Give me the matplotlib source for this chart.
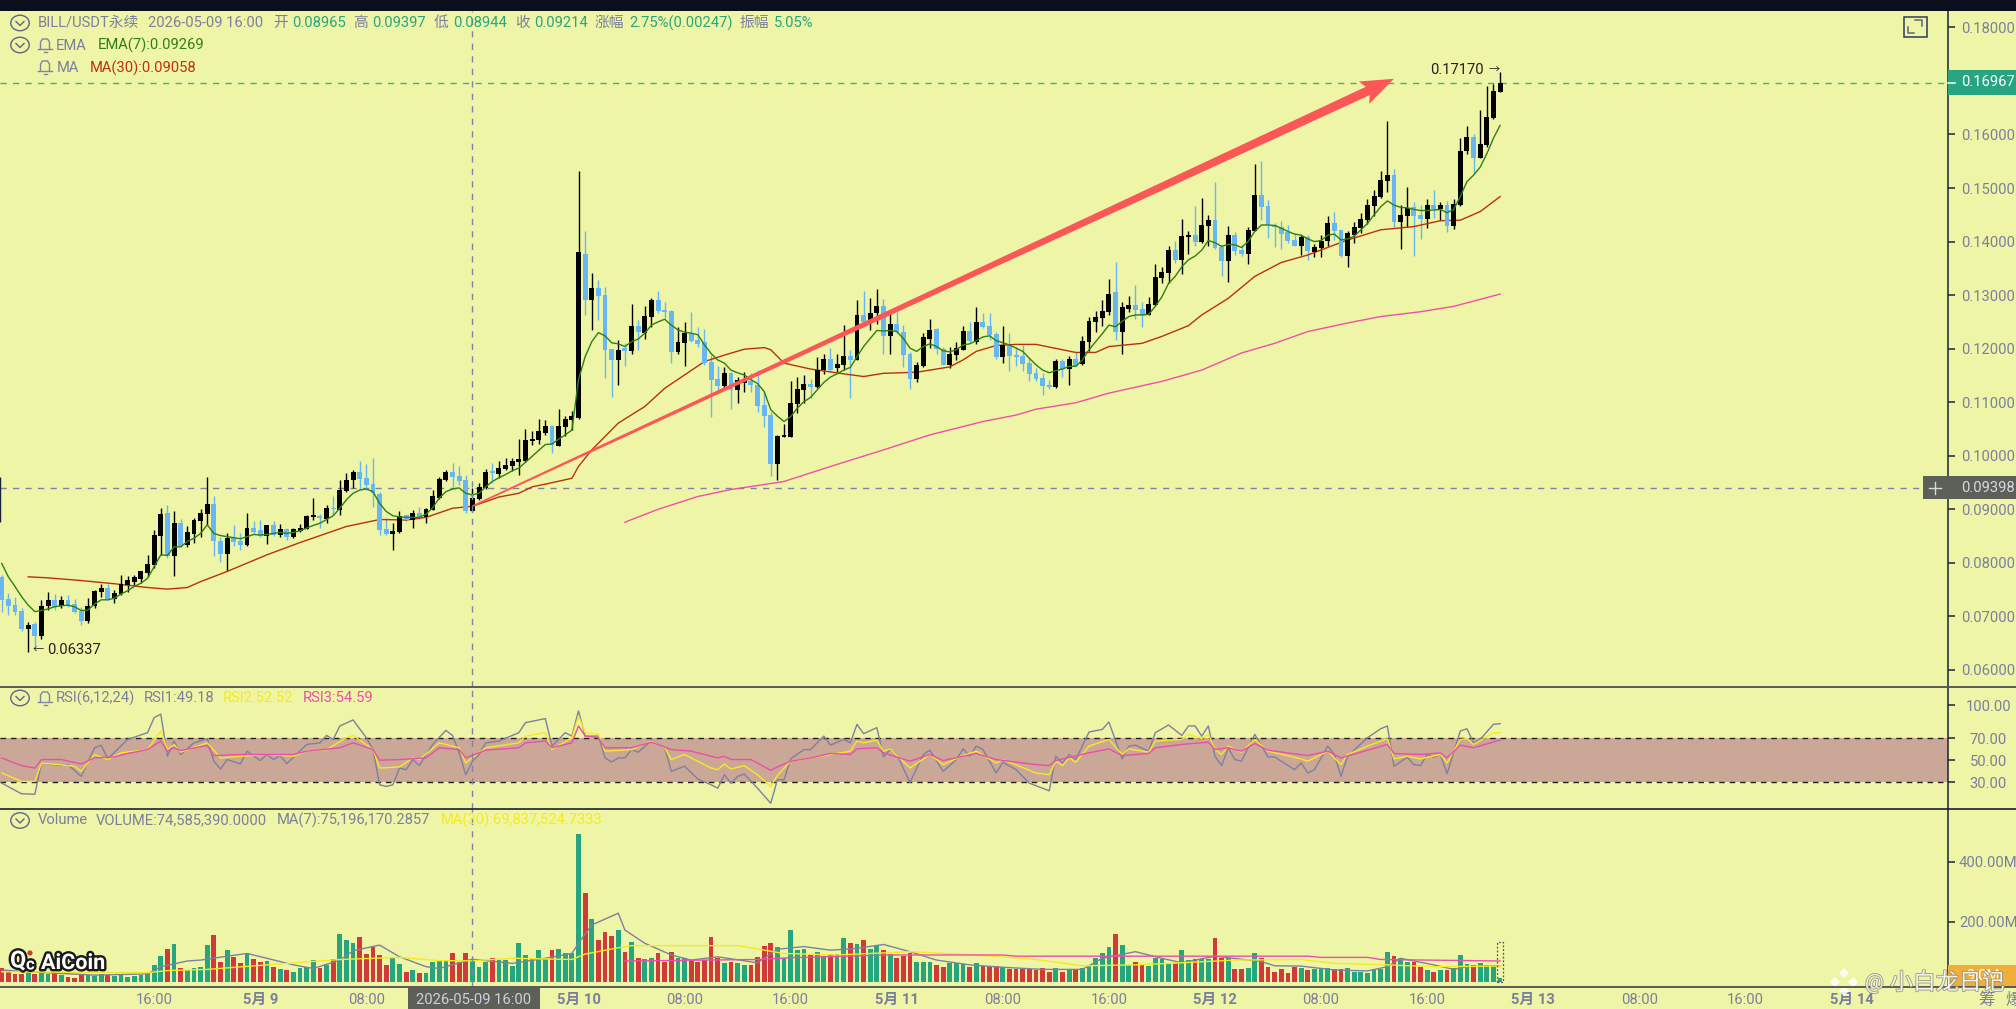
"""BILL/USDT 30m candle chart with EMA/MA, RSI and volume panes."""
import matplotlib

matplotlib.use("Agg")
import matplotlib.pyplot as plt
import matplotlib.patheffects as pe
from matplotlib.patches import Circle, Ellipse, Polygon, Rectangle
import numpy as np

plt.rcParams["font.family"] = ["Roboto", "Noto Sans CJK SC", "DejaVu Sans"]

W, H = 2016, 1009
BG = "#eff5a6"
INK = "#7b7f9e"
UP_C, DOWN_C = "#000000", "#67b7f7"
UP_V, DOWN_V = "#26a67f", "#d13a3a"

# prices below are in 1e-3 USDT, one entry per 30 minute candle
opens = [
    77.4, 73.2, 72.1, 71.0, 67.7, 68.5, 66.4, 72.0, 73.1, 72.0,
    73.1, 72.3, 71.0, 69.2, 72.0, 74.5, 75.4, 73.2, 74.2, 75.9,
    76.5, 77.0, 78.2, 79.6, 85.0, 89.4, 81.3, 87.5, 83.4, 85.4,
    87.8, 89.1, 91.0, 84.1, 81.6, 84.7, 84.1, 83.4, 86.6, 86.1,
    85.1, 87.1, 85.2, 86.3, 84.8, 86.0, 86.3, 88.5, 88.8, 88.1,
    90.3, 89.8, 93.5, 95.4, 96.9, 95.9, 94.7, 92.9, 86.3, 85.4,
    85.7, 88.9, 88.0, 89.4, 88.5, 89.9, 92.2, 95.5, 96.9, 96.2,
    95.5, 89.65, 91.9, 93.9, 97.2, 96.6, 97.5, 98.1, 98.8, 99.1,
    102.8, 103.0, 104.2, 105.6, 101.9, 105.3, 106.7, 107.1, 137.7, 129.0,
    131.4, 130.0, 119.9, 117.8, 120.1, 119.6, 124.2, 123.0, 126.0, 129.1,
    127.2, 127.0, 119.3, 121.0, 123.0, 121.6, 121.3, 117.5, 114.3, 113.0,
    115.5, 112.2, 113.5, 113.9, 113.3, 109.5, 107.6, 98.5, 103.5, 103.5,
    109.7, 112.3, 113.4, 112.8, 116.0, 118.0, 116.3, 117.0, 118.6, 117.8,
    126.3, 124.9, 126.6, 128.0, 122.4, 124.6, 123.2, 119.0, 114.4, 116.8,
    121.9, 123.7, 119.9, 117.0, 118.8, 119.8, 123.3, 121.3, 124.9, 124.2,
    122.8, 118.4, 120.5, 118.8, 118.7, 117.4, 115.5, 114.6, 113.2, 112.8,
    117.7, 116.2, 118.0, 117.1, 121.2, 125.0, 125.7, 126.8, 130.5, 123.1,
    127.4, 128.2, 127.4, 126.3, 128.2, 133.2, 134.1, 138.4, 136.6, 140.9,
    141.3, 139.9, 142.9, 144.0, 139.0, 136.4, 141.3, 138.4, 137.7, 142.0,
    148.7, 146.7, 143.1, 142.8, 141.7, 140.3, 139.2, 140.9, 138.1, 138.8,
    140.1, 143.4, 142.2, 137.3, 141.2, 142.5, 144.0, 146.7, 148.3, 151.4,
    152.4, 143.7, 144.8, 146.4, 145.0, 144.3, 146.8, 146.0, 146.8, 143.0,
    146.8, 156.9, 159.5, 155.7, 158.0, 163.0, 168.0,
]
highs = [
    77.8, 74.3, 73.7, 71.5, 69.0, 69.0, 73.1, 74.6, 74.2, 73.8,
    74.0, 73.2, 71.8, 73.5, 75.0, 76.1, 76.1, 74.9, 77.7, 77.6,
    77.7, 78.5, 81.5, 86.2, 90.2, 90.8, 89.7, 88.1, 86.8, 88.3,
    90.0, 96.0, 92.5, 84.9, 85.5, 87.1, 85.5, 89.4, 87.9, 88.0,
    87.1, 87.8, 87.3, 86.5, 86.5, 87.3, 88.9, 92.1, 89.1, 90.8,
    92.4, 95.4, 96.7, 97.4, 99.1, 98.5, 99.5, 93.3, 88.3, 87.5,
    89.6, 89.0, 89.9, 90.5, 90.3, 93.7, 96.0, 97.4, 98.6, 98.0,
    96.4, 93.97, 95.0, 97.5, 98.6, 99.0, 99.5, 99.5, 103.1, 105.0,
    104.6, 106.8, 106.6, 105.8, 108.7, 107.5, 108.4, 153.1, 142.0, 134.2,
    132.9, 131.6, 119.9, 121.7, 121.0, 128.3, 125.4, 128.0, 129.4, 130.8,
    128.8, 127.2, 124.1, 124.9, 126.8, 124.1, 123.6, 118.8, 116.8, 116.5,
    115.7, 114.8, 115.6, 115.4, 116.1, 112.0, 108.2, 103.9, 105.9, 114.0,
    114.7, 115.1, 114.3, 118.4, 119.0, 120.1, 119.0, 124.4, 119.8, 129.0,
    130.8, 129.5, 131.1, 129.3, 126.6, 126.9, 124.4, 119.4, 117.6, 122.9,
    125.5, 123.8, 120.3, 120.4, 121.3, 124.2, 124.9, 127.7, 126.6, 126.6,
    123.2, 124.2, 122.9, 120.4, 120.7, 118.2, 116.3, 115.4, 114.2, 118.0,
    118.0, 118.6, 119.3, 122.4, 125.9, 127.0, 129.0, 133.1, 136.2, 128.8,
    129.9, 131.8, 128.7, 129.7, 135.8, 135.2, 139.1, 140.1, 144.2, 141.9,
    146.7, 148.1, 145.0, 151.1, 139.4, 142.9, 141.7, 139.4, 142.7, 154.5,
    155.1, 147.8, 143.4, 143.9, 143.1, 141.6, 141.3, 141.3, 139.6, 141.3,
    144.8, 145.6, 142.2, 141.9, 143.6, 145.4, 147.9, 149.6, 153.1, 162.6,
    153.6, 146.8, 150.1, 147.3, 146.8, 148.0, 149.6, 147.3, 147.6, 148.0,
    159.3, 161.6, 160.1, 164.6, 169.0, 169.4, 171.7,
]
lows = [
    70.9, 70.3, 70.3, 67.2, 63.4, 64.5, 65.7, 71.2, 71.2, 71.5,
    71.8, 70.6, 68.4, 68.7, 71.5, 73.7, 73.1, 72.5, 74.0, 74.6,
    75.6, 76.3, 77.4, 79.0, 81.5, 80.9, 77.6, 82.9, 83.0, 83.7,
    84.9, 87.1, 81.2, 80.2, 78.4, 83.2, 82.4, 83.2, 85.3, 84.9,
    83.5, 85.0, 84.9, 84.2, 84.6, 85.8, 86.3, 88.0, 86.6, 87.4,
    88.9, 88.9, 93.3, 93.9, 93.6, 93.7, 90.5, 85.2, 85.2, 82.4,
    85.5, 87.9, 86.5, 88.1, 87.4, 89.9, 91.9, 95.2, 94.2, 94.5,
    89.4, 89.44, 91.8, 93.8, 94.9, 95.8, 97.4, 97.2, 96.4, 98.9,
    102.0, 102.2, 103.9, 100.5, 101.8, 103.6, 104.8, 106.8, 126.2, 123.5,
    125.4, 114.6, 110.9, 113.2, 116.8, 119.0, 119.8, 121.9, 124.1, 126.6,
    125.7, 117.3, 119.0, 116.8, 121.3, 120.4, 117.0, 107.2, 111.7, 112.6,
    108.7, 109.8, 112.0, 112.0, 108.1, 105.3, 96.3, 95.5, 103.5, 103.5,
    107.9, 109.8, 110.7, 112.6, 115.3, 115.7, 115.7, 116.1, 110.7, 117.8,
    124.6, 123.4, 124.7, 119.0, 119.0, 122.9, 116.5, 112.4, 113.7, 116.6,
    120.1, 119.0, 117.0, 116.3, 117.8, 119.8, 121.3, 120.9, 123.8, 121.6,
    118.0, 117.3, 115.9, 116.7, 115.9, 113.9, 113.9, 111.4, 112.4, 112.6,
    114.8, 113.2, 116.7, 117.0, 119.5, 123.2, 124.2, 126.3, 121.7, 119.0,
    126.8, 125.5, 124.1, 126.3, 128.0, 132.2, 132.2, 136.0, 134.0, 137.6,
    139.1, 139.8, 139.1, 138.6, 133.5, 132.4, 137.5, 137.3, 135.8, 141.9,
    144.0, 140.6, 139.0, 138.6, 139.8, 139.1, 137.5, 136.6, 137.2, 137.2,
    139.1, 140.3, 137.2, 135.2, 139.8, 141.6, 143.3, 144.7, 148.1, 149.3,
    142.8, 138.6, 142.8, 137.4, 140.4, 142.5, 144.4, 144.0, 141.7, 142.4,
    146.7, 156.4, 152.8, 155.7, 157.7, 162.8, 168.0,
]
closes = [
    73.1, 72.0, 70.8, 67.7, 68.4, 66.4, 72.0, 73.1, 71.8, 73.1,
    72.2, 70.8, 69.2, 72.0, 74.8, 75.4, 73.2, 74.4, 76.1, 76.8,
    77.3, 78.5, 79.8, 85.2, 89.1, 81.2, 87.5, 83.2, 85.7, 88.0,
    89.4, 91.0, 84.1, 81.6, 84.7, 83.9, 83.4, 86.6, 85.8, 85.1,
    87.1, 85.2, 86.3, 84.8, 86.3, 86.6, 88.8, 88.9, 88.3, 90.3,
    90.0, 93.6, 95.5, 96.9, 95.7, 94.5, 93.0, 86.1, 85.4, 86.0,
    88.8, 88.0, 89.4, 88.5, 90.1, 92.5, 95.7, 96.9, 96.0, 95.3,
    89.7, 92.14, 94.1, 96.9, 96.7, 97.8, 98.3, 99.0, 99.4, 103.0,
    103.1, 104.6, 105.6, 102.0, 105.6, 106.9, 107.4, 138.0, 129.0, 131.4,
    129.9, 119.8, 117.8, 119.8, 119.6, 124.2, 123.1, 126.1, 129.1, 127.0,
    126.8, 119.3, 121.2, 123.0, 121.4, 120.9, 117.3, 114.2, 113.0, 115.5,
    112.2, 114.2, 114.2, 113.2, 109.3, 107.5, 98.5, 103.7, 103.9, 109.9,
    112.5, 113.4, 112.9, 116.0, 118.0, 116.1, 117.1, 118.6, 117.8, 126.3,
    124.9, 126.7, 128.0, 122.4, 124.6, 123.2, 118.9, 114.4, 116.9, 122.1,
    123.5, 119.9, 117.0, 119.0, 120.2, 123.3, 121.4, 124.9, 124.0, 122.6,
    118.4, 120.7, 118.6, 118.4, 117.2, 115.3, 114.3, 113.0, 112.8, 117.7,
    116.2, 118.0, 116.8, 121.5, 125.2, 125.9, 127.1, 130.2, 123.2, 127.7,
    128.2, 127.2, 126.3, 128.4, 133.3, 134.3, 138.4, 136.6, 141.1, 141.3,
    139.9, 143.1, 144.0, 138.8, 136.4, 141.3, 138.3, 137.7, 142.2, 148.7,
    146.4, 143.1, 142.8, 141.4, 140.1, 139.2, 140.8, 138.3, 138.9, 140.2,
    143.4, 142.0, 137.3, 141.6, 142.7, 144.2, 146.8, 148.5, 151.5, 152.4,
    143.7, 145.0, 146.2, 144.8, 144.3, 146.8, 146.0, 146.8, 143.0, 147.0,
    156.9, 159.5, 155.7, 158.2, 163.2, 168.1, 169.67,
]
ema7 = [
    79.9, 77.4, 75.6, 73.7, 72.1, 70.9, 71.1, 71.4, 71.8, 72.0,
    72.1, 71.8, 71.1, 71.2, 72.3, 73.1, 73.1, 73.4, 74.2, 74.8,
    75.6, 76.2, 77.1, 79.3, 81.5, 81.4, 83.0, 83.0, 84.0, 84.6,
    85.5, 87.1, 85.5, 85.1, 84.9, 84.7, 84.5, 84.9, 85.3, 85.2,
    85.3, 85.5, 85.7, 85.5, 85.7, 86.0, 86.5, 87.0, 87.4, 88.1,
    88.8, 90.2, 91.8, 93.0, 93.6, 93.8, 93.3, 91.1, 89.6, 88.8,
    88.6, 88.5, 88.5, 88.5, 89.1, 90.3, 92.1, 93.3, 93.8, 94.0,
    93.0, 92.69, 93.0, 94.2, 95.2, 95.9, 96.5, 97.2, 97.7, 98.8,
    99.9, 101.0, 102.1, 102.2, 103.1, 103.9, 104.8, 114.2, 118.5, 121.3,
    123.0, 122.4, 121.1, 120.9, 120.4, 121.3, 121.8, 122.9, 124.4, 125.0,
    125.5, 124.4, 123.5, 123.1, 122.9, 122.6, 120.7, 119.1, 117.9, 117.3,
    116.0, 115.5, 115.1, 114.2, 113.5, 112.0, 108.6, 107.4, 106.4, 107.3,
    108.9, 110.1, 110.9, 112.3, 113.7, 114.7, 115.3, 116.0, 116.5, 118.5,
    120.4, 121.9, 123.4, 123.3, 123.4, 123.2, 121.9, 120.1, 119.5, 120.4,
    120.9, 120.4, 119.6, 119.4, 119.8, 120.7, 120.9, 121.5, 122.2, 122.4,
    121.5, 121.1, 120.7, 120.1, 119.5, 118.2, 117.0, 116.0, 115.5, 115.9,
    116.2, 116.7, 116.7, 117.9, 119.8, 121.3, 122.8, 124.4, 124.1, 125.1,
    126.0, 126.3, 126.3, 126.4, 127.9, 129.7, 132.2, 133.5, 135.3, 136.6,
    137.3, 138.4, 140.2, 139.8, 139.1, 139.5, 139.4, 138.9, 140.0, 141.9,
    143.1, 143.1, 143.0, 142.5, 141.9, 141.4, 141.2, 140.5, 140.0, 140.2,
    141.2, 141.4, 140.3, 140.5, 141.0, 142.2, 143.4, 145.0, 146.5, 147.6,
    146.8, 146.4, 146.3, 146.0, 145.8, 145.8, 145.9, 146.0, 145.4, 146.0,
    148.4, 151.2, 152.4, 153.9, 156.4, 159.3, 161.7,
]
# volume in millions
volumes = [
    44, 39, 25, 25, 39, 25, 41, 27, 33, 22,
    16, 13, 22, 22, 18, 27, 22, 18, 22, 16,
    18, 22, 33, 56, 86, 110, 124, 44, 39, 44,
    48, 123, 156, 67, 106, 82, 61, 95, 75, 67,
    69, 50, 41, 39, 33, 44, 48, 73, 44, 56,
    75, 158, 139, 128, 150, 93, 114, 89, 56, 80,
    59, 33, 39, 30, 30, 64, 69, 69, 97, 67,
    97, 74.6, 48, 67, 78, 73, 73, 52, 130, 89,
    75, 106, 75, 106, 110, 95, 95, 492, 296, 209,
    139, 166, 152, 172, 100, 133, 80, 76, 80, 95,
    64, 100, 78, 78, 73, 64, 73, 150, 78, 61,
    64, 61, 56, 56, 83, 120, 128, 117, 78, 172,
    106, 110, 89, 100, 86, 93, 93, 147, 128, 125,
    139, 108, 120, 106, 93, 80, 86, 95, 64, 64,
    64, 56, 48, 61, 61, 58, 48, 61, 52, 52,
    52, 48, 42, 42, 42, 42, 39, 44, 33, 44,
    33, 41, 41, 44, 52, 80, 95, 114, 159, 123,
    54, 64, 58, 52, 80, 75, 61, 61, 106, 71,
    75, 75, 75, 147, 80, 80, 42, 42, 47, 97,
    80, 48, 33, 42, 30, 48, 44, 39, 41, 41,
    47, 41, 41, 47, 33, 33, 30, 41, 41, 100,
    86, 78, 67, 67, 48, 39, 33, 39, 39, 44,
    89, 58, 56, 61, 56, 56, 13,
]

# lines as (candle number, value)
ma30_pts = [
    (4, 77.4), (7, 77.2), (12, 76.7), (17, 76.1), (22, 75.4), (25, 75.1), (28, 75.4),
    (30, 76.5), (34, 78.4), (40, 81.5), (45, 83.8), (52, 86.8), (57, 88.1), (61, 88.0),
    (64, 88.5), (68, 90.2), (71, 90.58), (75, 92.3), (78, 93.0), (80, 94.2), (82, 94.7),
    (86, 95.8), (87, 98.0), (89, 101.1), (93, 106.1), (97, 109.2), (100, 112.6),
    (103, 115.1), (106, 117.6), (109, 118.8), (112, 119.9), (115, 120.2), (116, 119.8),
    (118, 117.3), (122, 116.2), (127, 115.3), (130, 114.8), (133, 115.4), (138, 115.6),
    (143, 116.6), (145, 117.9), (147, 119.5), (150, 120.6), (153, 120.8), (156, 120.8),
    (162, 119.3), (165, 119.3), (167, 120.4), (172, 121.0), (175, 122.3), (179, 124.3),
    (181, 126.3), (185, 129.4), (189, 133.5), (193, 136.1), (197, 137.5), (203, 140.3),
    (208, 142.2), (213, 142.8), (217, 143.9), (220, 144.0), (223, 145.6), (226, 148.4),
]
ma120_pts = [
    (94, 87.6), (99, 90.0), (105, 92.4), (110, 93.7), (118, 95.2), (125, 98.0), (133, 101.1),
    (140, 103.9), (148, 106.4), (153, 107.6), (156, 108.7), (162, 109.9), (167, 111.7),
    (175, 113.9), (181, 116.0), (187, 119.2), (192, 121.0), (197, 123.2), (203, 124.8),
    (208, 126.0), (214, 126.9), (219, 127.9), (226, 130.2),
]
rsi1_pts = [
    (0, 29.4), (3, 19.7), (5, 19.3), (6, 47.7), (9, 45.3), (10, 46.2), (12, 35.5), (14, 61.5),
    (15, 63.9), (16, 51.4), (19, 69.1), (22, 75.2), (23, 88.9), (24, 92.0), (25, 53.8),
    (26, 67.6), (27, 55.4), (29, 66.0), (31, 69.7), (32, 49.3), (33, 42.2), (34, 50.8),
    (36, 46.8), (37, 58.4), (39, 49.9), (40, 55.4), (41, 50.8), (42, 54.4), (43, 47.1),
    (46, 64.5), (48, 66.0), (49, 72.7), (50, 69.1), (51, 81.3), (53, 86.8), (55, 70.6),
    (56, 59.9), (57, 27.9), (58, 26.4), (59, 27.9), (60, 43.1), (61, 41.6), (62, 50.8),
    (63, 45.3), (65, 64.5), (67, 77.3), (68, 72.7), (69, 56.9), (70, 37.0), (71, 49.18),
    (72, 55.4), (73, 66.0), (75, 67.6), (78, 75.2), (79, 84.3), (82, 88.0), (83, 63.0),
    (84, 69.1), (85, 75.2), (86, 72.1), (87, 95.0), (88, 72.1), (90, 72.1), (91, 52.3),
    (92, 48.6), (93, 52.3), (94, 52.3), (95, 59.9), (96, 57.5), (98, 68.2), (100, 61.5),
    (101, 40.1), (103, 44.7), (105, 33.1), (107, 27.9), (108, 24.8), (109, 37.0), (110, 29.4),
    (111, 35.5), (112, 37.7), (114, 24.8), (116, 11.1), (117, 32.5), (118, 32.5), (119, 51.4),
    (121, 59.9), (122, 59.9), (124, 72.1), (125, 63.9), (127, 69.1), (128, 66.0), (129, 82.8),
    (130, 74.3), (132, 79.8), (133, 53.2), (134, 59.9), (135, 55.4), (137, 30.0), (139, 55.4),
    (140, 59.3), (142, 40.1), (144, 50.8), (145, 60.5), (146, 53.8), (147, 63.0), (148, 59.9),
    (150, 38.6), (151, 48.3), (153, 41.6), (155, 29.4), (158, 22.4), (159, 53.8), (160, 47.7),
    (161, 55.4), (162, 50.8), (164, 75.8), (166, 78.2), (167, 84.9), (169, 51.4), (170, 63.0),
    (171, 63.9), (173, 58.4), (174, 75.2), (176, 82.2), (178, 72.7), (179, 81.3), (180, 81.3),
    (181, 72.1), (182, 81.3), (183, 53.8), (184, 45.3), (185, 61.5), (186, 50.8), (187, 49.3),
    (189, 73.7), (191, 53.2), (192, 53.2), (195, 41.6), (196, 47.7), (197, 38.6), (198, 41.6),
    (200, 63.0), (201, 55.4), (202, 35.5), (203, 53.8), (206, 70.6), (208, 78.8), (209, 81.3),
    (210, 44.7), (212, 52.9), (213, 46.2), (214, 45.3), (215, 55.4), (216, 52.9), (217, 55.4),
    (218, 38.0), (220, 76.7), (221, 78.8), (222, 66.0), (223, 69.1), (225, 82.8), (226, 83.4),
]
rsi2_pts = [
    (0, 38.6), (3, 31.0), (5, 31.0), (6, 47.7), (11, 44.7), (12, 40.1), (14, 55.4), (16, 50.8),
    (18, 56.9), (22, 59.9), (24, 76.7), (25, 59.9), (26, 64.5), (27, 57.5), (31, 66.0),
    (33, 52.3), (36, 53.8), (40, 55.4), (44, 53.8), (46, 58.4), (49, 59.9), (52, 70.6),
    (53, 72.7), (56, 59.9), (57, 43.1), (60, 44.1), (62, 52.3), (63, 50.8), (66, 66.0),
    (69, 61.5), (70, 47.7), (71, 52.52), (73, 61.5), (78, 66.0), (79, 72.1), (82, 75.2),
    (83, 59.9), (86, 70.6), (87, 90.4), (88, 75.2), (90, 73.7), (91, 58.4), (95, 59.9),
    (98, 67.6), (100, 61.5), (101, 50.8), (103, 55.4), (107, 43.1), (108, 41.6), (109, 46.8),
    (110, 42.2), (112, 45.3), (114, 37.0), (116, 26.4), (117, 36.4), (119, 49.3), (122, 52.3),
    (128, 58.4), (129, 67.6), (130, 66.0), (132, 68.5), (133, 58.4), (134, 60.5), (137, 43.1),
    (140, 55.4), (142, 46.2), (145, 54.4), (147, 58.4), (150, 47.7), (151, 50.8), (156, 38.6),
    (158, 37.0), (159, 49.3), (160, 45.3), (161, 52.3), (162, 48.3), (164, 63.0), (167, 69.1),
    (169, 55.4), (170, 60.5), (173, 57.5), (174, 67.6), (178, 69.1), (179, 73.7), (181, 69.7),
    (182, 73.7), (183, 59.9), (184, 55.4), (185, 63.0), (187, 57.5), (189, 69.1), (191, 58.4),
    (196, 51.4), (197, 49.3), (200, 58.4), (202, 46.2), (203, 55.4), (206, 63.0), (209, 69.7),
    (210, 51.4), (212, 53.8), (214, 51.4), (217, 55.4), (218, 47.7), (220, 69.1), (221, 69.7),
    (222, 64.5), (225, 75.2), (226, 75.2),
]
rsi3_pts = [
    (0, 52.3), (3, 45.3), (5, 43.1), (6, 50.8), (9, 50.8), (12, 46.8), (14, 52.3), (17, 53.2),
    (19, 56.3), (22, 59.9), (24, 67.6), (25, 58.4), (26, 61.5), (27, 59.0), (31, 63.6),
    (32, 54.4), (36, 55.4), (44, 55.4), (46, 58.4), (51, 61.5), (53, 66.0), (56, 59.9),
    (57, 50.2), (60, 50.8), (64, 52.3), (66, 61.5), (69, 59.9), (70, 52.3), (71, 54.59),
    (73, 59.3), (78, 61.5), (79, 66.0), (82, 67.6), (83, 61.5), (86, 66.0), (87, 81.3),
    (88, 72.1), (90, 70.6), (91, 61.5), (95, 61.5), (98, 66.6), (101, 59.9), (104, 58.4),
    (108, 52.3), (109, 53.8), (110, 50.8), (113, 50.8), (114, 47.7), (116, 41.0), (117, 44.1),
    (119, 49.3), (122, 52.3), (125, 56.3), (128, 55.4), (129, 60.5), (132, 61.5), (133, 56.9),
    (137, 49.3), (140, 55.4), (142, 49.9), (147, 56.3), (150, 50.8), (156, 46.2), (158, 45.3),
    (159, 49.9), (164, 56.9), (167, 60.5), (169, 54.4), (173, 56.3), (174, 61.5), (178, 64.5),
    (182, 66.6), (183, 59.9), (185, 61.5), (187, 58.4), (189, 65.4), (191, 59.3), (197, 54.4),
    (200, 58.4), (202, 52.3), (209, 64.5), (210, 56.3), (214, 55.4), (217, 56.9), (218, 52.3),
    (220, 63.9), (222, 61.5), (226, 68.5),
]
vol_ma7_pts = [
    (0, 39), (4, 33), (14, 22), (22, 26), (24, 50), (28, 69), (30, 72), (34, 85), (37, 94),
    (40, 78), (44, 56), (47, 44), (51, 72), (53, 103), (57, 122), (60, 83), (64, 50), (66, 44),
    (71, 75), (77, 61), (82, 78), (86, 94), (87, 128), (89, 189), (93, 228), (94, 172),
    (97, 128), (101, 89), (104, 72), (108, 83), (114, 63), (117, 108), (121, 117), (125, 105),
    (129, 111), (133, 124), (137, 100), (141, 72), (146, 56), (151, 48), (157, 41), (163, 41),
    (166, 78), (171, 100), (175, 78), (178, 63), (183, 85), (190, 67), (192, 53), (196, 52),
    (201, 39), (206, 36), (209, 50), (211, 78), (216, 56), (219, 41), (221, 50), (226, 52),
]
vol_ma30_pts = [
    (0, 33), (22, 30), (25, 37), (31, 41), (40, 56), (51, 74), (60, 81), (66, 70), (71, 69.8),
    (77, 78), (86, 74), (88, 92), (93, 113), (95, 120), (111, 120), (118, 94), (126, 89),
    (137, 100), (147, 89), (156, 74), (163, 53), (171, 56), (178, 63), (186, 72), (196, 74),
    (201, 61), (209, 56), (216, 50), (226, 52),
]
vol_ma120_pts = [
    (94, 69), (114, 74), (119, 80), (134, 89), (151, 89), (153, 85), (197, 85), (199, 81),
    (206, 81), (208, 74), (226, 69),
]

# axis labels
price_ticks = [0.18, 0.16, 0.15, 0.14, 0.13, 0.12, 0.11, 0.10, 0.09, 0.08, 0.07, 0.06]
rsi_ticks = [100, 70, 50, 30]
vol_ticks = [200, 400]
time_ticks = [23, 39, 55, 87, 103, 119, 135, 151, 167, 183, 199, 215, 231, 247, 263, 279]
time_labels = ["16:00", "5月 9", "08:00", "5月 10", "08:00", "16:00", "5月 11", "08:00",
               "16:00", "5月 12", "08:00", "16:00", "5月 13", "08:00", "16:00", "5月 14"]

LAST_PRICE = 0.16967
CROSS_PRICE = 0.09398
CROSS_IDX = 71
EDGE_WICK = (87.7, 96.1)  # candle cut off by the left edge
ARROW_START = (71, 0.0906)
ARROW_TIP = (210, 0.1704)


def pane(top, bottom, ylim):
    """Add an axes that spans the pixel rows top..bottom, left of the price scale."""
    ax = fig.add_axes([0, 1 - bottom / H, 1948 / W, (bottom - top) / H])
    ax.set_facecolor(BG)
    ax.set_xlim(-0.256, 293.56)
    ax.set_ylim(*ylim)
    for name in ("left", "top", "bottom"):
        ax.spines[name].set_visible(False)
    ax.spines["right"].set_color("#1c2233")
    ax.spines["right"].set_linewidth(1.1)
    ax.yaxis.tick_right()
    ax.tick_params(axis="y", length=5, width=1.1, color="#1c2233", labelcolor=INK,
                   labelsize=10.6, pad=24)
    ax.set_xticks([])
    return ax


def center_labels(ax):
    for lab in ax.get_yticklabels():
        lab.set_ha("center")


def draw_pts(ax, pts, color, lw=1.0):
    xs, ys = zip(*pts)
    ax.plot(xs, ys, color=color, lw=lw, solid_joinstyle="round")


fig = plt.figure(figsize=(W / 100, H / 100), dpi=100, facecolor=BG)
x = np.arange(len(closes))
o, h, l, c = (np.array(v) / 1000 for v in (opens, highs, lows, closes))
up = c >= o

# price pane
ax = pane(11, 687, (0.05682, 0.18306))
ax.vlines(x[up], l[up], h[up], color=UP_C, lw=1.0, zorder=2)
ax.vlines(x[~up], l[~up], h[~up], color=DOWN_C, lw=1.0, zorder=2)
ax.bar(x[up], (c - o)[up], bottom=o[up], width=0.74, color=UP_C, zorder=3)
ax.bar(x[~up], (c - o)[~up], bottom=o[~up], width=0.74, color=DOWN_C, zorder=3)
ax.vlines(-0.2, EDGE_WICK[0] / 1000, EDGE_WICK[1] / 1000, color="#1c2233", lw=1.0)
ax.plot(x, np.array(ema7) / 1000, color="#2f7f12", lw=1.0, zorder=4)
draw_pts(ax, [(k, v / 1000) for k, v in ma30_pts], "#b8320f")
draw_pts(ax, [(k, v / 1000) for k, v in ma120_pts], "#ee4fa9")
ax.axhline(LAST_PRICE, color="#3fb28c", lw=1.0, dashes=(4.5, 4.5), zorder=1)
ax.axhline(CROSS_PRICE, color="#7f83a8", lw=1.0, dashes=(4.5, 4.5), zorder=1)
ax.set_yticks(price_ticks)
ax.set_yticklabels([f"{t:.5f}" for t in price_ticks])
center_labels(ax)

# rsi pane
ax_rsi = pane(687, 809, (5.9, 116.7))
ax_rsi.axhspan(30, 70, color="#cba797", lw=0, zorder=1)
ax_rsi.axhline(70, color="#222222", lw=1.0, dashes=(4, 3.5), zorder=2)
ax_rsi.axhline(30, color="#222222", lw=1.0, dashes=(4, 3.5), zorder=2)
draw_pts(ax_rsi, rsi1_pts, "#7d819f")
draw_pts(ax_rsi, rsi2_pts, "#f6e924")
draw_pts(ax_rsi, rsi3_pts, "#ec4dac")
ax_rsi.set_yticks(rsi_ticks)
ax_rsi.set_yticklabels([f"{t:.2f}" for t in rsi_ticks])
center_labels(ax_rsi)

# volume pane
ax_vol = pane(809, 987, (-17.6, 575))
vol = np.array(volumes, dtype=float)
ax_vol.bar(x, vol, width=0.72, color=np.where(up, UP_V, DOWN_V), zorder=2)
ax_vol.add_patch(Rectangle((x[-1] - 0.4, 0), 0.8, 133, fill=False, ec="#555555", lw=0.9,
                           ls=(0, (1.5, 1.5)), zorder=3))
draw_pts(ax_vol, vol_ma7_pts, "#7d819f")
draw_pts(ax_vol, vol_ma30_pts, "#f6e924")
draw_pts(ax_vol, vol_ma120_pts, "#ec4dac")
ax_vol.set_yticks(vol_ticks)
ax_vol.set_yticklabels([f"{t:.2f}M" for t in vol_ticks])
center_labels(ax_vol)
ax_vol.set_xticks(time_ticks)
ax_vol.set_xticklabels(time_labels)
ax_vol.tick_params(axis="x", length=0, pad=4.5, labelcolor=INK, labelsize=10.6)
for lab, text in zip(ax_vol.get_xticklabels(), time_labels):
    if "月" in text:
        lab.set_fontweight("bold")

for a in (ax, ax_rsi, ax_vol):
    a.axvline(CROSS_IDX, color="#7f83a8", lw=1.0, dashes=(4.5, 4.5), zorder=5)

# overlay in pixel coordinates for the chart furniture
ui = fig.add_axes([0, 0, 1, 1], facecolor="none")
ui.set_xlim(0, W)
ui.set_ylim(H, 0)
ui.axis("off")
ui.add_patch(Rectangle((0, 0), W, 11, color="#0b0f1d", lw=0))
for yy, col, lw in ((687, "#565a55", 1.4), (809, "#1c2233", 1.2), (987, "#565a55", 1.4)):
    ui.plot([0, W], [yy, yy], color=col, lw=lw, solid_capstyle="butt")


def px(a, xv, yv):
    pt = a.transData.transform((xv, yv))
    return ui.transData.inverted().transform(pt)


# hand drawn trend arrow
start = px(ax, *ARROW_START)
tip = px(ax, *ARROW_TIP)
d = (tip - start) / np.linalg.norm(tip - start)
n = np.array([-d[1], d[0]])
ui.add_patch(Polygon([start - 0.8 * n, tip - 29 * d - 4.6 * n, tip - 33 * d - 12.3 * n, tip,
                      tip - 33 * d + 12.3 * n, tip - 29 * d + 4.6 * n, start + 0.8 * n],
                     closed=True, color="#fb5757", lw=0, zorder=6))


def label(xp, yp, s, color=INK, size=10.6, **kw):
    kw.setdefault("va", "center")
    return ui.text(xp, yp, s, color=color, fontsize=size, **kw)


def chevron(xp, yp):
    ui.add_patch(Ellipse((xp, yp), 18.5, 15.5, fill=False, ec="#5f6488", lw=1.0))
    ui.plot([xp - 4, xp, xp + 4], [yp - 1.5, yp + 2.5, yp - 1.5], color="#5f6488", lw=1.0)


def bell(xp, yp):
    ui.add_patch(Polygon([(xp - 4.5, yp + 4), (xp - 4.5, yp - 3), (xp - 2.5, yp - 6),
                          (xp + 2.5, yp - 6), (xp + 4.5, yp - 3), (xp + 4.5, yp + 4)],
                         closed=False, fill=False, ec="#7f83a8", lw=1.0))
    ui.plot([xp - 7, xp + 7], [yp + 4, yp + 4], color="#7f83a8", lw=1.0)
    ui.plot([xp - 1.5, xp + 1.5], [yp + 6.5, yp + 6.5], color="#7f83a8", lw=1.0)


TEAL = "#27a581"
chevron(20, 23)
label(38, 23, "BILL/USDT永续")
label(148.5, 23, "2026-05-09 16:00")
for xp, name, xv, val in ((273, "开", 292, "0.08965"), (353, "高", 372, "0.09397"),
                          (434, "低", 453, "0.08944"), (515, "收", 534, "0.09214"),
                          (595, "涨幅", 629, "2.75%(0.00247)"), (739, "振幅", 774, "5.05%")):
    label(xp, 23, name)
    label(xv, 23, val, color=TEAL)
chevron(20, 45)
bell(45, 45)
label(56, 45.5, "EMA")
label(98, 45.5, "EMA(7):0.09269", color="#2f7f12")
bell(45, 67)
label(57, 68, "MA")
label(90, 68, "MA(30):0.09058", color="#c0300f")

chevron(20, 698)
bell(45, 698)
label(56, 698, "RSI(6,12,24)")
label(144, 698, "RSI1:49.18")
label(223, 698, "RSI2:52.52", color="#f6e924")
label(303, 698, "RSI3:54.59", color="#ec4dac")

chevron(20, 820.5)
label(38, 820.5, "Volume")
label(96, 820.5, "VOLUME:74,585,390.0000")
label(277, 820.5, "MA(7):75,196,170.2857")
label(441, 820.5, "MA(30):69,837,524.7333", color="#f6e924")

label(1430, 70, "0.17170", color="#222222")
label(1489, 70, "→", color="#222222", size=8)
label(33, 650, "←", color="#222222", size=8)
label(47.5, 650, "0.06337", color="#222222")

# last price and crosshair tags
ui.add_patch(Rectangle((1948, 70), 68, 25, color=TEAL, lw=0))
ui.plot([1948, 1955], [82.7, 82.7], color="white", lw=1.1)
label(1988, 82, "0.16967", color="white", ha="center")
ui.add_patch(Rectangle((1923, 476), 93, 23, color="#5d6058", lw=0))
label(1988, 487.5, "0.09398", color="#d8d8e0", ha="center")
ui.plot([1929, 1941], [487.5, 487.5], color="#d8d8e0", lw=1.0)
ui.plot([1935, 1935], [481.5, 493.5], color="#d8d8e0", lw=1.0)
ui.add_patch(Rectangle((408, 988), 131.5, 21, color="#5d6058", lw=0))
label(474, 999.5, "2026-05-09 16:00", color="#cfd0dc", ha="center")

# fullscreen button
ui.add_patch(Rectangle((1903.5, 16.5), 23, 20, fill=False, ec="#2f3a5e", lw=1.1))
ui.plot([1915, 1922, 1922], [19.5, 19.5, 26], color="#5f6488", lw=1.1)
ui.plot([1907.5, 1907.5, 1914], [27, 33, 33], color="#5f6488", lw=1.1)

# current volume tag, right side tabs
ui.add_patch(Rectangle((1948, 965), 68, 22, color="#f0ae3c", lw=0))
label(1983, 976, "9.0M", color="white", ha="center")
label(1978, 1000, "筹", size=12)
label(2005, 1000, "爆", size=12)

# exchange and site logos
outline = [pe.withStroke(linewidth=3.4, foreground="#1a1a1a")]
ui.text(10, 961, "Q", color="white", fontsize=17, fontweight="bold", va="center",
        path_effects=outline)
ui.text(26, 965, "c", color="white", fontsize=12, fontweight="bold", va="center",
        path_effects=outline)
ui.add_patch(Circle((30, 953), 2.6, color="#c8402a", lw=0))
ui.text(41, 963, "AiCoin", color="white", fontsize=15.5, fontweight="bold", va="center",
        path_effects=outline)

soft = [pe.withStroke(linewidth=1.2, foreground="#8a8a70")]
for dx, dy in ((0, -9), (-9, 0), (9, 0), (0, 9)):
    cx, cy = 1844 + dx, 982 + dy
    ui.add_patch(Polygon([(cx, cy - 5), (cx + 5, cy), (cx, cy + 5), (cx - 5, cy)], closed=True,
                         color="white", alpha=0.85, lw=0))
ui.text(1865, 983, "@", color="white", fontsize=15, va="center", alpha=0.85, path_effects=soft)
ui.text(1890, 983, "小白龙日记", color="white", fontsize=16.5, va="center", alpha=0.85,
        path_effects=soft)

fig.savefig("out.png", dpi=100, facecolor=fig.get_facecolor())
